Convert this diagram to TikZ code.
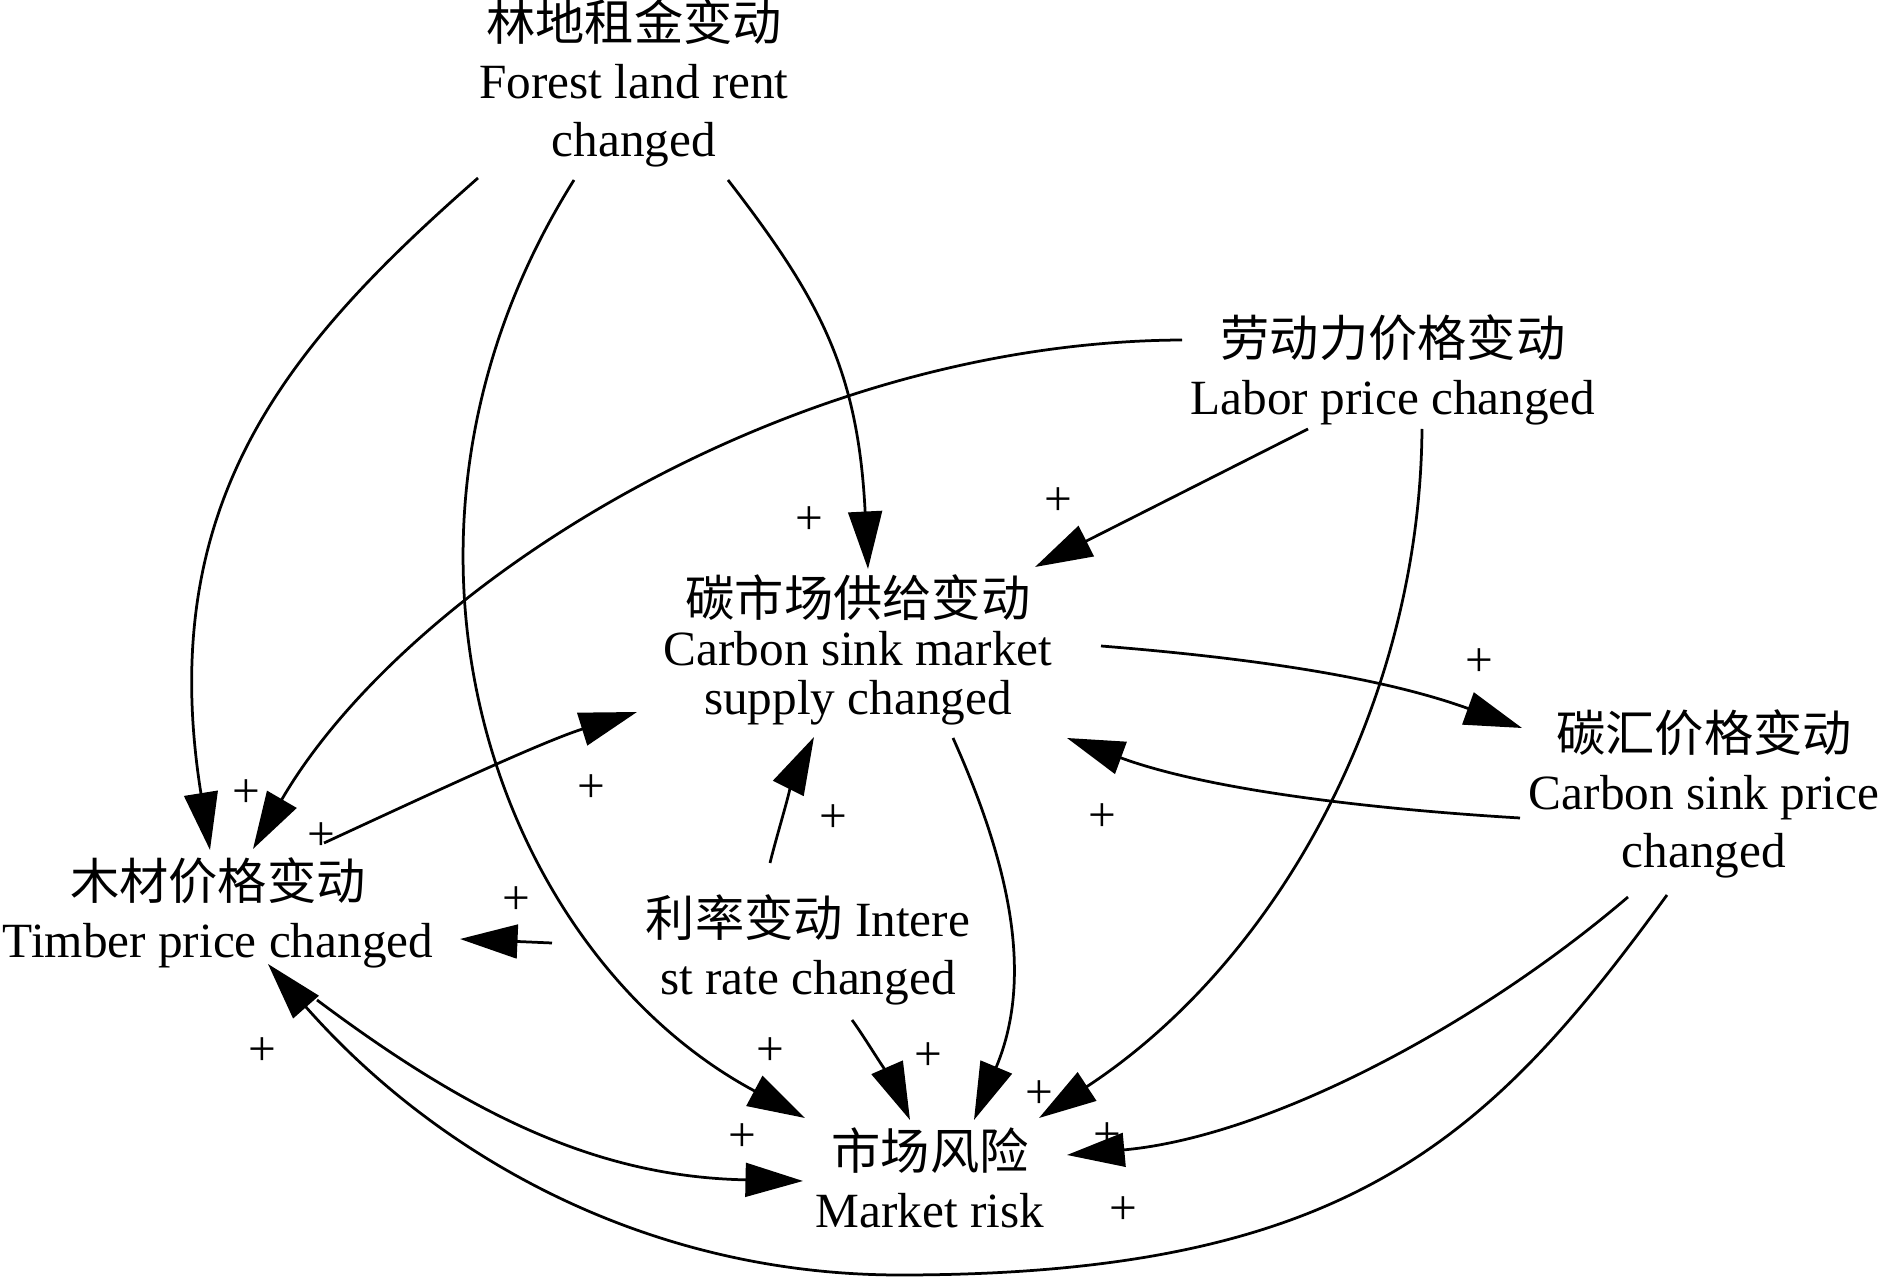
\documentclass[tikz,border=0pt]{standalone}
\usepackage{fontspec}
\setmainfont{Liberation Serif}
\newfontfamily\cjk{Noto Sans CJK SC}
\usetikzlibrary{arrows.meta}
\begin{document}
\begin{tikzpicture}[x=0.4pt,y=-0.4pt,
  lbl/.style={inner sep=0pt, anchor=base, font=\fontsize{19.7pt}{23.2pt}\selectfont},
  lblc/.style={inner sep=0pt, anchor=base, font=\fontsize{19.7pt}{19.6pt}\selectfont},
  pl/.style={inner sep=0pt, font=\fontsize{19.7pt}{23.2pt}\selectfont},
  arr/.style={line width=1.1pt, -{Triangle[length=23pt,width=13.5pt]}}]
\useasboundingbox (0,0) rectangle (1882,1277);

% variables
\node[lbl] (A) at (634,41) {\begin{tabular}[t]{@{}c@{}}{\cjk 林地租金变动}\\Forest land rent\\changed\end{tabular}};
\node[lbl] (B) at (1393,357) {\begin{tabular}[t]{@{}c@{}}{\cjk 劳动力价格变动}\\Labor price changed\end{tabular}};
\node[lblc] (C) at (858,617) {\begin{tabular}[t]{@{}c@{}}{\cjk 碳市场供给变动}\\Carbon sink market\\supply changed\end{tabular}};
\node[lbl] (D) at (1704,752) {\begin{tabular}[t]{@{}c@{}}{\cjk 碳汇价格变动}\\Carbon sink price\\changed\end{tabular}};
\node[lbl] (E) at (218,900) {\begin{tabular}[t]{@{}c@{}}{\cjk 木材价格变动}\\Timber price changed\end{tabular}};
\node[lbl] (F) at (808,937) {\begin{tabular}[t]{@{}c@{}}{\cjk 利率变动} Intere\\st rate changed\end{tabular}};
\node[lbl] (G) at (930,1170) {\begin{tabular}[t]{@{}c@{}}{\cjk 市场风险}\\Market risk\end{tabular}};

% polarity signs
\node[pl] (p1) at (809,521) {+};
\node[pl] (p2) at (1058,502) {+};
\node[pl] (p3) at (1479,663) {+};
\node[pl] (p4) at (246,794) {+};
\node[pl] (p5) at (321,837) {+};
\node[pl] (p6) at (591,789) {+};
\node[pl] (p7) at (833,819) {+};
\node[pl] (p8) at (1102,818) {+};
\node[pl] (p9) at (516,901) {+};
\node[pl] (p10) at (262,1052) {+};
\node[pl] (p11) at (770,1052) {+};
\node[pl] (p12) at (928,1057) {+};
\node[pl] (p13) at (1039,1095) {+};
\node[pl] (p14) at (742,1138) {+};
\node[pl] (p15) at (1107,1137) {+};
\node[pl] (p16) at (1123,1211) {+};

% connectors
\draw[arr] ([shift={(-156,137)}]A.base) .. controls (290,343) and (154,500) .. ([shift={(-8,-50)}]E.base);
\draw[arr] ([shift={(-60,139)}]A.base) .. controls (348,540) and (497,953) .. ([shift={(-125,-52)}]G.base);
\draw[arr] ([shift={(94,139)}]A.base) .. controls (819,298) and (858,369) .. ([shift={(10,-48)}]C.base);
\draw[arr] ([shift={(-211,-17)}]B.base) .. controls (782,342) and (403,591) .. ([shift={(35,-51)}]E.base);
\draw[arr] ([shift={(-85,72)}]B.base) -- ([shift={(177,-50)}]C.base);
\draw[arr] ([shift={(29,72)}]B.base) .. controls (1420,700) and (1280,960) .. ([shift={(109,-52)}]G.base);
\draw[arr] ([shift={(243,29)}]C.base) .. controls (1251,658) and (1381,677) .. ([shift={(-182,-24)}]D.base);
\draw[arr] ([shift={(-184,66)}]D.base) .. controls (1370,809) and (1208,790) .. ([shift={(209,121)}]C.base);
\draw[arr] ([shift={(95,121)}]C.base) .. controls (1014,874) and (1032,982) .. ([shift={(44,-50)}]G.base);
\draw[arr] ([shift={(106,-57)}]E.base) .. controls (415,801) and (541,742) .. ([shift={(-221,95)}]C.base);
\draw[arr] ([shift={(-38,-74)}]F.base) .. controls (777,834) and (796,773) .. ([shift={(-44,120)}]C.base);
\draw[arr] ([shift={(-256,6)}]F.base) -- ([shift={(242,39)}]E.base);
\draw[arr] ([shift={(44,83)}]F.base) .. controls (867,1040) and (900,1097) .. ([shift={(-20,-50)}]G.base);
\draw[arr] ([shift={(99,100)}]E.base) .. controls (477,1120) and (603,1177) .. ([shift={(-127,11)}]G.base);
\draw[arr] ([shift={(-76,145)}]D.base) .. controls (1476,1027) and (1267,1137) .. ([shift={(137,-15)}]G.base);
\draw[arr] ([shift={(-37,143)}]D.base) .. controls (1490,1138) and (1350,1275) .. (900,1275) .. controls (650,1275) and (440,1159) .. ([shift={(50,64)}]E.base);
\end{tikzpicture}
\end{document}
